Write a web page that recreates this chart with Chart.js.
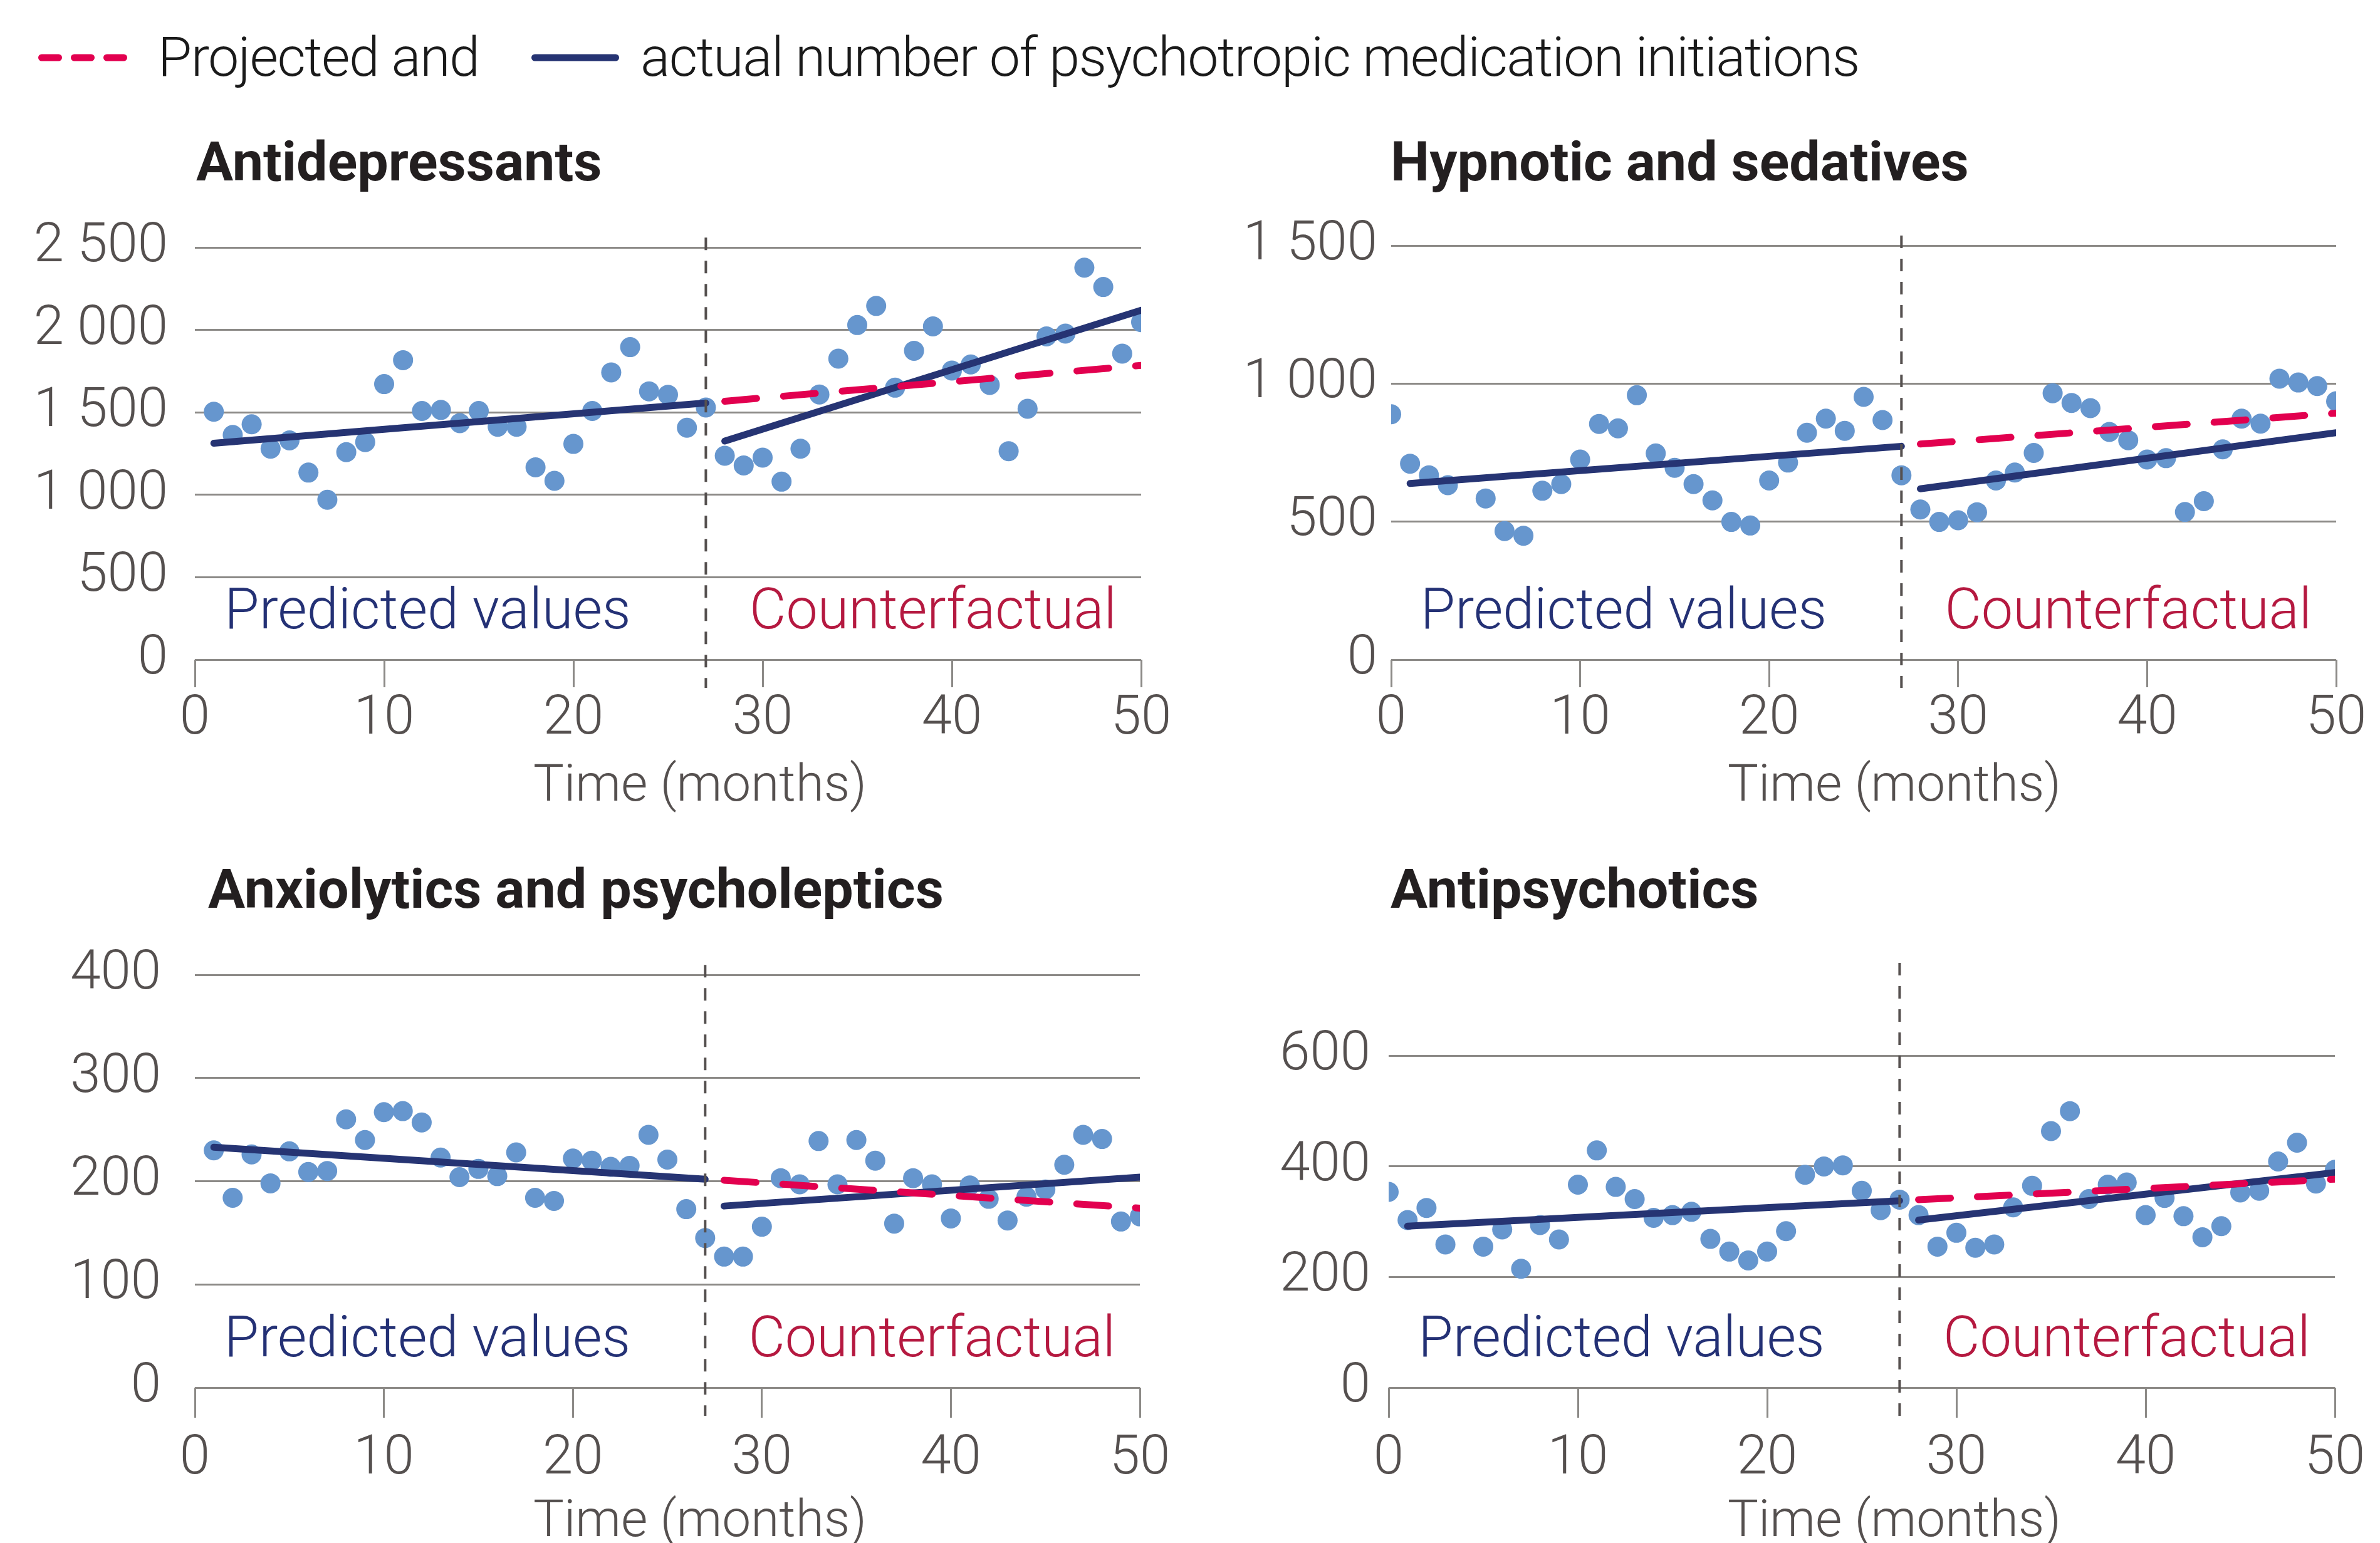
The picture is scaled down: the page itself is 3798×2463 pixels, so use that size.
<!DOCTYPE html>
<html>
<head>
<meta charset="utf-8">
<script src="https://cdn.jsdelivr.net/npm/chart.js@4.4.1/dist/chart.umd.min.js"></script>
<style>
  html, body { margin: 0; padding: 0; background: #ffffff; }
  body { width: 3798px; height: 2463px; position: relative; overflow: hidden; font-family: Roboto, "Open Sans", sans-serif; }
  canvas { position: absolute; }
  .txt { position: absolute; line-height: 1; white-space: nowrap; }
  .legend { font-weight: 300; font-size: 88px; color: #1a1a1a; letter-spacing: -1.5px; }
  .title { font-weight: 700; font-size: 88px; color: #231f20; }
  .axisTitle { font-weight: 300; font-size: 82px; color: #55504f; transform: translateX(-50%); }
</style>
</head>
<body>
<svg style="position:absolute;left:0;top:0" width="1000" height="200">
  <line x1="66.5" y1="92" x2="197.5" y2="92" stroke="#e2004f" stroke-width="11" stroke-linecap="round" stroke-dasharray="27 25"/>
  <line x1="853.5" y1="92" x2="982.5" y2="92" stroke="#263473" stroke-width="11" stroke-linecap="round"/>
</svg>
<div class="txt legend" id="leg1" style="left:252px;">Projected and</div>
<div class="txt legend" id="leg2" style="left:1022px;">actual number of psychotropic medication initiations</div>

<div class="txt title" data-base="288" style="left:313px;">Antidepressants</div>
<div class="txt title" data-base="288" style="left:2219px;">Hypnotic and sedatives</div>
<div class="txt title" data-base="1449" style="left:332px;">Anxiolytics and psycholeptics</div>
<div class="txt title" data-base="1449" style="left:2219px;">Antipsychotics</div>

<div class="txt axisTitle" data-base="1278" style="left:1117px;">Time (months)</div>
<div class="txt axisTitle" data-base="1278" style="left:3023px;">Time (months)</div>
<div class="txt axisTitle" data-base="2452" style="left:1117px;">Time (months)</div>
<div class="txt axisTitle" data-base="2452" style="left:3023px;">Time (months)</div>

<canvas id="c1" width="1900" height="1000" style="left:0px;top:300px;"></canvas>
<canvas id="c2" width="1898" height="1000" style="left:1900px;top:300px;"></canvas>
<canvas id="c3" width="1900" height="1013" style="left:0px;top:1450px;"></canvas>
<canvas id="c4" width="1898" height="1013" style="left:1900px;top:1450px;"></canvas>

<script>
// ---------------- DATA ----------------
const interventionMonth = 27;
const xTickValues = [0, 10, 20, 30, 40, 50];

const monthsLeft = [1,2,3,4,5,6,7,8,9,10,11,12,13,14,15,16,17,18,19,20,21,22,23,24,25,
                    26,27,28,29,30,31,32,33,34,35,36,37,38,39,40,41,42,43,44,45,46,47,48,49,50];
const monthsRight = [0,1,2,3,5,6,7,8,9,10,11,12,13,14,15,16,17,18,19,20,21,22,23,24,25,
                     26,27,28,29,30,31,32,33,34,35,36,37,38,39,40,41,42,43,44,45,46,47,48,49,50];

const trendMonthsPre = [1, 27];
const trendMonthsPost = [28, 50];

// Antidepressants
const antidepressants = [1504,1363,1428,1280,1330,1135,970,1259,1320,1672,1817,1509,1515,1435,1509,
  1413,1413,1167,1085,1309,1509,1743,1896,1628,1607,1407,1530,1237,1178,1226,1080,1280,1609,1826,
  2030,2146,1650,1874,2022,1754,1791,1667,1265,1522,1961,1978,2378,2261,1857,2048];
const antidepressantsPre = [1313, 1557];
const antidepressantsPost = [1326, 2120];
const antidepressantsCounterfactual = [1568, 1785];
const antidepressantsTicks = [0, 500, 1000, 1500, 2000, 2500];

// Hypnotic and sedatives
const hypnotics = [889,710,668,632,584,466,449,612,636,725,854,838,958,747,695,636,577,499,486,
  649,714,822,873,829,952,868,668,544,499,505,534,649,678,749,965,930,911,825,795,725,730,535,574,
  762,873,855,1018,1004,991,936];
const hypnoticsPre = [638, 773];
const hypnoticsPost = [619, 822];
const hypnoticsCounterfactual = [781, 893];
const hypnoticsTicks = [0, 500, 1000, 1500];

// Anxiolytics and psycholeptics
const anxiolytics = [230,184,226,198,229,209,210,260,240,267,268,257,223,204,212,205,228,184,181,
  222,220,214,215,245,221,173,145,127,127,156,203,197,239,197,240,220,159,203,197,164,196,183,162,
  185,192,216,245,241,161,166];
const anxiolyticsPre = [233, 202];
const anxiolyticsPost = [176, 204];
const anxiolyticsCounterfactual = [201, 174];
const anxiolyticsTicks = [0, 100, 200, 300, 400];

// Antipsychotics
const antipsychotics = [354,303,325,259,255,286,215,294,268,367,429,363,341,307,312,318,269,246,
  230,246,283,385,400,402,356,321,340,312,255,280,253,259,326,365,464,500,341,367,371,312,343,310,
  272,292,353,356,409,443,369,394];
const antipsychoticsPre = [292, 338];
const antipsychoticsPost = [303, 389];
const antipsychoticsCounterfactual = [340, 377];
const antipsychoticsTicks = [0, 200, 400, 600];

const regionLabels = ['Predicted values', 'Counterfactual'];
const regionLabelMonths = [12.3, 39.0];

// ---------------- STYLE ----------------
const NAVY = '#263473';
const RED = '#e2004f';
const DOT = '#6696ce';
const GRID = '#8c8a87';
const TICKTXT = '#55504f';

function fmt(v) {
  const s = String(Math.round(v));
  return s.length > 3 ? s.slice(0, s.length - 3) + ' ' + s.slice(-3) : s;
}
function pts(xs, ys) { return xs.map((x, i) => ({ x: x, y: ys[i] })); }

const periodPlugin = {
  id: 'periods',
  afterDatasetsDraw(chart, args, opts) {
    const { ctx, chartArea } = chart;
    const x = chart.scales.x;
    const px = x.getPixelForValue(opts.divider);
    ctx.save();
    ctx.strokeStyle = '#55504f';
    ctx.lineWidth = 4;
    ctx.setLineDash([20, 17]);
    ctx.beginPath();
    ctx.moveTo(px, chartArea.top - 16);
    ctx.lineTo(px, chartArea.bottom + 45);
    ctx.stroke();
    ctx.setLineDash([]);
    ctx.font = '300 90px Roboto';
    ctx.textAlign = 'center';
    ctx.textBaseline = 'alphabetic';
    ctx.fillStyle = '#243175';
    ctx.fillText(opts.labels[0], x.getPixelForValue(opts.labelAt[0]), chartArea.bottom - 50);
    ctx.fillStyle = '#b51940';
    ctx.fillText(opts.labels[1], x.getPixelForValue(opts.labelAt[1]), chartArea.bottom - 50);
    ctx.restore();
  }
};

function makeChart(id, cfg) {
  const datasets = [
    { data: pts(trendMonthsPost, cfg.cf), showLine: true, borderColor: RED, borderWidth: 11,
      borderDash: [51, 43], borderCapStyle: 'round', pointRadius: 0, order: 0 },
    { data: pts(trendMonthsPre, cfg.pre), showLine: true, borderColor: NAVY, borderWidth: 11,
      borderCapStyle: 'round', pointRadius: 0, order: 0 },
    { data: pts(trendMonthsPost, cfg.post), showLine: true, borderColor: NAVY, borderWidth: 11,
      borderCapStyle: 'round', pointRadius: 0, order: 0 },
    { data: pts(cfg.months, cfg.values), showLine: false, pointRadius: 16, pointBackgroundColor: DOT,
      pointBorderWidth: 0, order: 1 }
  ];
  return new Chart(document.getElementById(id), {
    type: 'scatter',
    data: { datasets },
    plugins: [periodPlugin],
    options: {
      responsive: false,
      animation: false,
      devicePixelRatio: 1,
      events: [],
      layout: { padding: { top: cfg.padTop, right: cfg.padRight, left: 0, bottom: 0 } },
      plugins: {
        legend: { display: false },
        tooltip: { enabled: false },
        periods: { divider: interventionMonth, labels: regionLabels, labelAt: regionLabelMonths }
      },
      scales: {
        x: {
          type: 'linear', min: 0, max: 50,
          afterBuildTicks: (s) => { s.ticks = xTickValues.map(v => ({ value: v })); },
          afterFit: (s) => { s.height = cfg.xHeight; },
          grid: { drawOnChartArea: false, drawTicks: true, tickLength: cfg.tickLen, color: GRID, lineWidth: 3 },
          border: { display: false },
          ticks: { color: TICKTXT, font: { family: 'Roboto', weight: 300, size: 87 }, padding: cfg.xPad,
                   maxRotation: 0, callback: (v) => fmt(v) }
        },
        y: {
          type: 'linear', min: 0, max: cfg.max,
          afterBuildTicks: (s) => { s.ticks = cfg.ticks.map(v => ({ value: v })); },
          afterFit: (s) => { s.width = cfg.yWidth; },
          grid: { drawTicks: false, color: GRID, lineWidth: 3 },
          border: { display: false },
          ticks: { color: TICKTXT, font: { family: 'Roboto', weight: 300, size: 87 }, padding: cfg.yPad,
                   callback: (v) => fmt(v) }
        }
      }
    }
  });
}

function placeText() {
  document.querySelectorAll('[data-base]').forEach(el => {
    const fs = parseFloat(getComputedStyle(el).fontSize);
    el.style.top = (parseFloat(el.dataset.base) - 0.842 * fs) + 'px';
  });
  ['leg1', 'leg2'].forEach(id => {
    const el = document.getElementById(id);
    el.style.top = (121 - 0.842 * 88) + 'px';
  });
}

function build() {
  placeText();
  makeChart('c1', { months: monthsLeft, values: antidepressants, pre: antidepressantsPre,
    post: antidepressantsPost, cf: antidepressantsCounterfactual, ticks: antidepressantsTicks, max: 2500,
    padTop: 92, padRight: 79, yWidth: 311, xHeight: 247, yPad: 43, xPad: 0, tickLen: 44 });
  makeChart('c2', { months: monthsRight, values: hypnotics, pre: hypnoticsPre,
    post: hypnoticsPost, cf: hypnoticsCounterfactual, ticks: hypnoticsTicks, max: 1500,
    padTop: 92, padRight: 70, yWidth: 320, xHeight: 247, yPad: 22, xPad: 0, tickLen: 44 });
  makeChart('c3', { months: monthsLeft, values: anxiolytics, pre: anxiolyticsPre,
    post: anxiolyticsPost, cf: anxiolyticsCounterfactual, ticks: anxiolyticsTicks, max: 400,
    padTop: 103, padRight: 81, yWidth: 311, xHeight: 248, yPad: 54, xPad: 15, tickLen: 48 });
  makeChart('c4', { months: monthsRight, values: antipsychotics, pre: antipsychoticsPre,
    post: antipsychoticsPost, cf: antipsychoticsCounterfactual, ticks: antipsychoticsTicks, max: 750,
    padTop: 103, padRight: 72, yWidth: 316, xHeight: 248, yPad: 29, xPad: 15, tickLen: 48 });
}

if (document.fonts && document.fonts.load) {
  Promise.all([
    document.fonts.load('300 86px Roboto'),
    document.fonts.load('700 88px Roboto')
  ]).then(build, build);
} else {
  build();
}
</script>
</body>
</html>
